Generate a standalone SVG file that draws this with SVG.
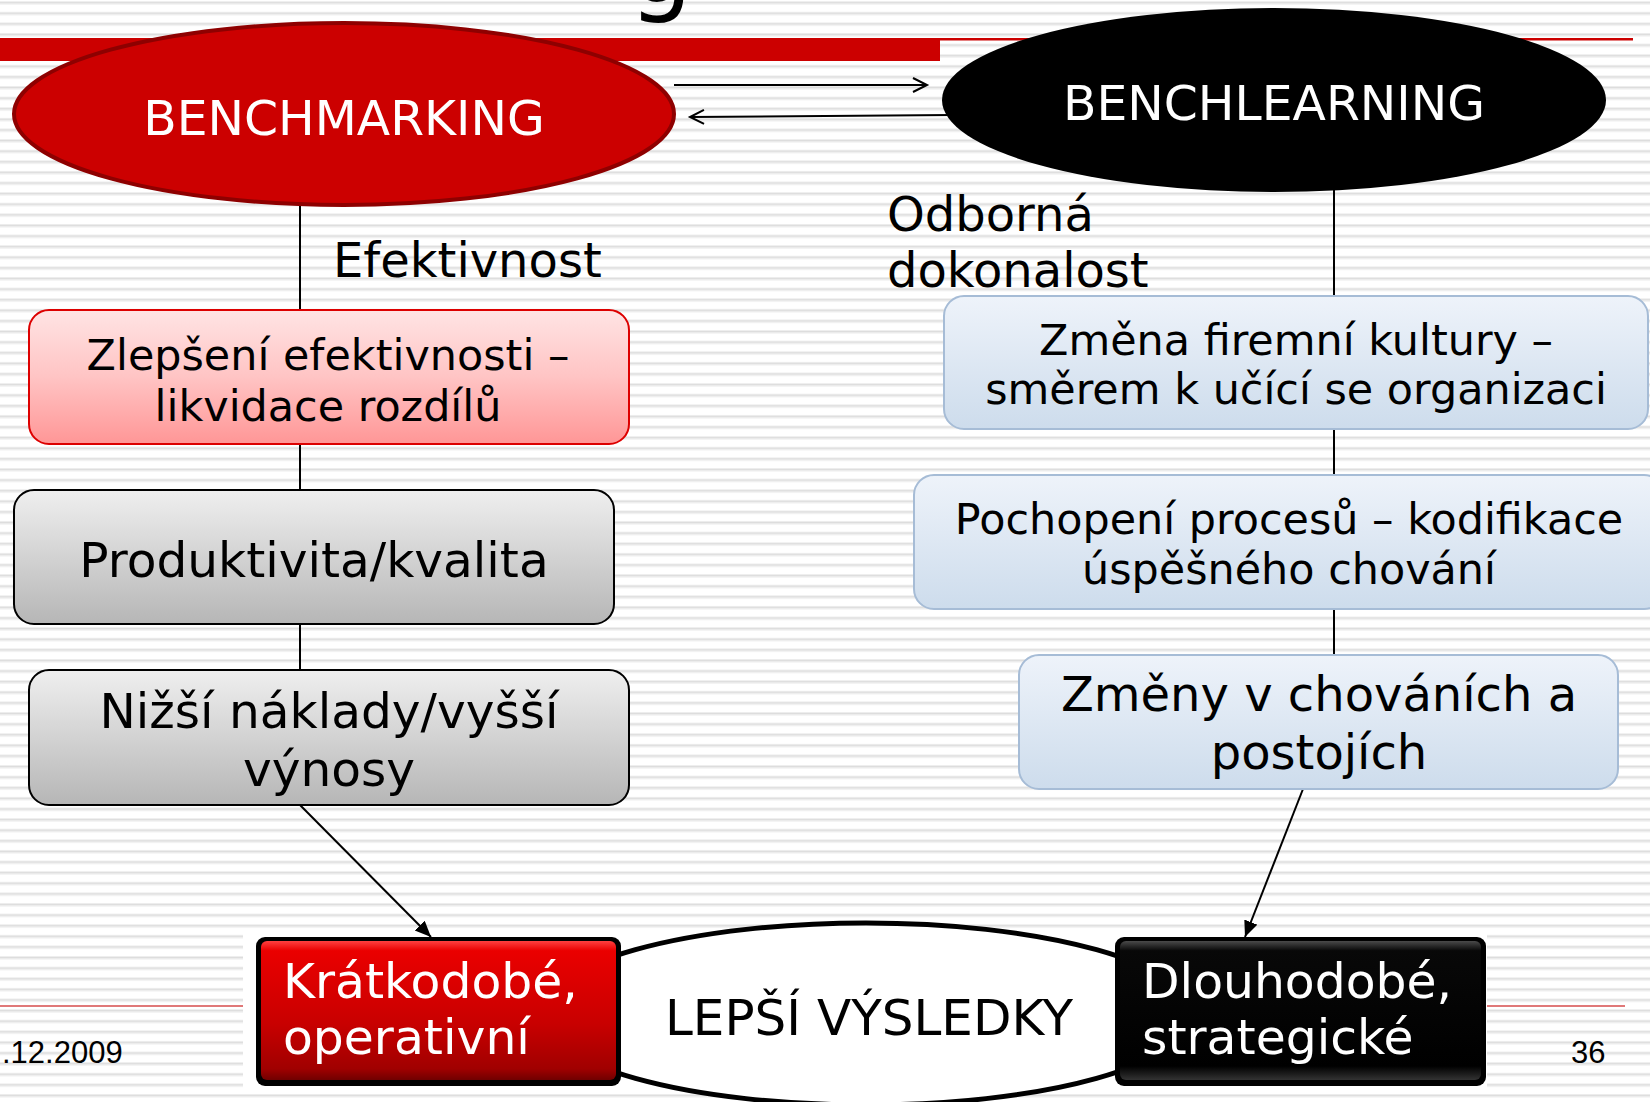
<svg xmlns="http://www.w3.org/2000/svg" width="1650" height="1102" viewBox="0 0 1650 1102">
<defs>
<pattern id="stripes" patternUnits="userSpaceOnUse" x="0" y="1.15" width="20" height="10.61">
<rect x="0" y="0" width="20" height="10.61" fill="#ffffff"/>
<rect x="0" y="0.2" width="20" height="1" fill="#e9e9e9"/>
<rect x="0" y="1.1" width="20" height="1.3" fill="#d9d9d9"/>
<rect x="0" y="2.4" width="20" height="1" fill="#eaeaea"/>
</pattern>
<linearGradient id="gPink" x1="0" y1="0" x2="0" y2="1">
<stop offset="0" stop-color="#ffe4e4"/>
<stop offset="0.5" stop-color="#ffc4c4"/>
<stop offset="1" stop-color="#ff9696"/>
</linearGradient>
<linearGradient id="gGray" x1="0" y1="0" x2="0" y2="1">
<stop offset="0" stop-color="#efefef"/>
<stop offset="1" stop-color="#b6b6b6"/>
</linearGradient>
<linearGradient id="gBlue" x1="0" y1="0" x2="0" y2="1">
<stop offset="0" stop-color="#eef3fa"/>
<stop offset="1" stop-color="#cddcec"/>
</linearGradient>
<linearGradient id="gRed" x1="0" y1="0" x2="0" y2="1">
<stop offset="0" stop-color="#ff4040"/>
<stop offset="0.07" stop-color="#ea0000"/>
<stop offset="0.6" stop-color="#c80000"/>
<stop offset="0.92" stop-color="#a00000"/>
<stop offset="1" stop-color="#700000"/>
</linearGradient>
<linearGradient id="gBlack" x1="0" y1="0" x2="0" y2="1">
<stop offset="0" stop-color="#4a4a4a"/>
<stop offset="0.07" stop-color="#080808"/>
<stop offset="0.9" stop-color="#000000"/>
<stop offset="1" stop-color="#333333"/>
</linearGradient>
<marker id="openArrow" markerUnits="userSpaceOnUse" markerWidth="20" markerHeight="20" refX="15" refY="8" orient="auto">
<path d="M1,1 L15,8 L1,15" fill="none" stroke="#000" stroke-width="2"/>
</marker>
<marker id="solidArrow" markerUnits="userSpaceOnUse" markerWidth="20" markerHeight="16" refX="16" refY="7" orient="auto">
<path d="M0,0 L16,7 L0,14 Z" fill="#000"/>
</marker>
</defs>
<style>
text { font-family: "DejaVu Sans", Verdana, sans-serif; }
.t42 { font-size: 42.9px; fill: #000; text-anchor: middle; }
.t48 { font-size: 48.6px; fill: #000; text-anchor: middle; }
.lbl { font-size: 48px; fill: #000; }
.wht { font-size: 48.8px; fill: #fff; }
.foot { font-family: "Liberation Sans", Arial, sans-serif; font-size: 31px; fill: #000; }
.conn { stroke: #000; stroke-width: 2; fill: none; }
</style>

<!-- background -->
<g id="background">
<rect x="0" y="0" width="1650" height="1102" fill="url(#stripes)"/>
<text x="629" y="2" style="font-size:100px;fill:#000">g</text>
<rect x="0" y="38" width="940" height="23" fill="#cc0000"/>
<rect x="940" y="38" width="693" height="2.5" fill="#cc0000"/>
<rect x="0" y="1005" width="243" height="2" fill="#e07878"/>
<rect x="1487" y="1005" width="138" height="2" fill="#e07878"/>
<text class="foot" x="2" y="1063">.12.2009</text>
<text class="foot" x="1571" y="1063">36</text>
<rect x="243" y="932" width="1244" height="156" fill="#ffffff"/>
</g>

<!-- connectors -->
<g id="connectors">
<line class="conn" x1="300" y1="200" x2="300" y2="805"/>
<line class="conn" x1="300" y1="805" x2="431" y2="937" marker-end="url(#solidArrow)"/>
<line class="conn" x1="1334" y1="185" x2="1334" y2="655"/>
<line class="conn" x1="1303" y1="789" x2="1245" y2="937" marker-end="url(#solidArrow)"/>
<line class="conn" x1="674" y1="85" x2="927" y2="85" marker-end="url(#openArrow)"/>
<line class="conn" x1="952" y1="115" x2="690" y2="117" marker-end="url(#openArrow)"/>
</g>

<!-- labels -->
<g id="label-efektivnost">
<text class="lbl" x="333" y="277">Efektivnost</text>
</g>
<g id="label-odborna">
<text class="lbl" x="887" y="231">Odborná</text>
<text class="lbl" x="887" y="287">dokonalost</text>
</g>

<!-- nodes -->
<g id="benchmarking">
<ellipse cx="344" cy="114" rx="330" ry="91" fill="#cc0000" stroke="#8e0000" stroke-width="4"/>
<text class="wht" x="344" y="135" text-anchor="middle">BENCHMARKING</text>
</g>
<g id="benchlearning">
<ellipse cx="1274" cy="100" rx="332" ry="92" fill="#000"/>
<text class="wht" x="1274" y="120" text-anchor="middle">BENCHLEARNING</text>
</g>

<g id="zlepseni">
<rect x="29" y="310" width="600" height="134" rx="20" fill="url(#gPink)" stroke="#dd0000" stroke-width="2"/>
<text class="t42" x="328" y="370">Zlepšení efektivnosti –</text>
<text class="t42" x="328" y="421">likvidace rozdílů</text>
</g>
<g id="produktivita">
<rect x="14" y="490" width="600" height="134" rx="20" fill="url(#gGray)" stroke="#000" stroke-width="2"/>
<text class="t48" x="314" y="577">Produktivita/kvalita</text>
</g>
<g id="naklady">
<rect x="29" y="670" width="600" height="135" rx="20" fill="url(#gGray)" stroke="#000" stroke-width="2"/>
<text class="t48" x="329" y="728">Nižší náklady/vyšší</text>
<text class="t48" x="329" y="786">výnosy</text>
</g>

<g id="zmena-kultury">
<rect x="944" y="296" width="704" height="133" rx="20" fill="url(#gBlue)" stroke="#a6bcd6" stroke-width="2"/>
<text class="t42" x="1296" y="355">Změna firemní kultury –</text>
<text class="t42" x="1296" y="404">směrem k učící se organizaci</text>
</g>
<g id="pochopeni">
<rect x="914" y="475" width="750" height="134" rx="20" fill="url(#gBlue)" stroke="#a6bcd6" stroke-width="2"/>
<text class="t42" x="1289" y="534">Pochopení procesů – kodifikace</text>
<text class="t42" x="1289" y="584">úspěšného chování</text>
</g>
<g id="zmeny-chovani">
<rect x="1019" y="655" width="599" height="134" rx="20" fill="url(#gBlue)" stroke="#a6bcd6" stroke-width="2"/>
<text class="t48" x="1319" y="711" style="font-size:48px">Změny v chováních a</text>
<text class="t48" x="1319" y="769" style="font-size:48px">postojích</text>
</g>

<g id="lepsi-vysledky">
<ellipse cx="866" cy="1014" rx="326" ry="91" fill="#fff" stroke="#000" stroke-width="5"/>
<text class="t48" x="869" y="1035" style="font-size:50px">LEPŠÍ VÝSLEDKY</text>
</g>
<g id="kratkodobe">
<rect x="256" y="937" width="365" height="149" rx="9" fill="#000"/>
<rect x="261" y="941" width="355" height="139" rx="6" fill="url(#gRed)"/>
<text class="wht" x="283" y="998">Krátkodobé,</text>
<text class="wht" x="283" y="1054">operativní</text>
</g>
<g id="dlouhodobe">
<rect x="1115" y="937" width="371" height="149" rx="9" fill="#000"/>
<rect x="1120" y="941" width="361" height="139" rx="6" fill="url(#gBlack)"/>
<text class="wht" x="1142" y="998">Dlouhodobé,</text>
<text class="wht" x="1142" y="1054">strategické</text>
</g>
</svg>
